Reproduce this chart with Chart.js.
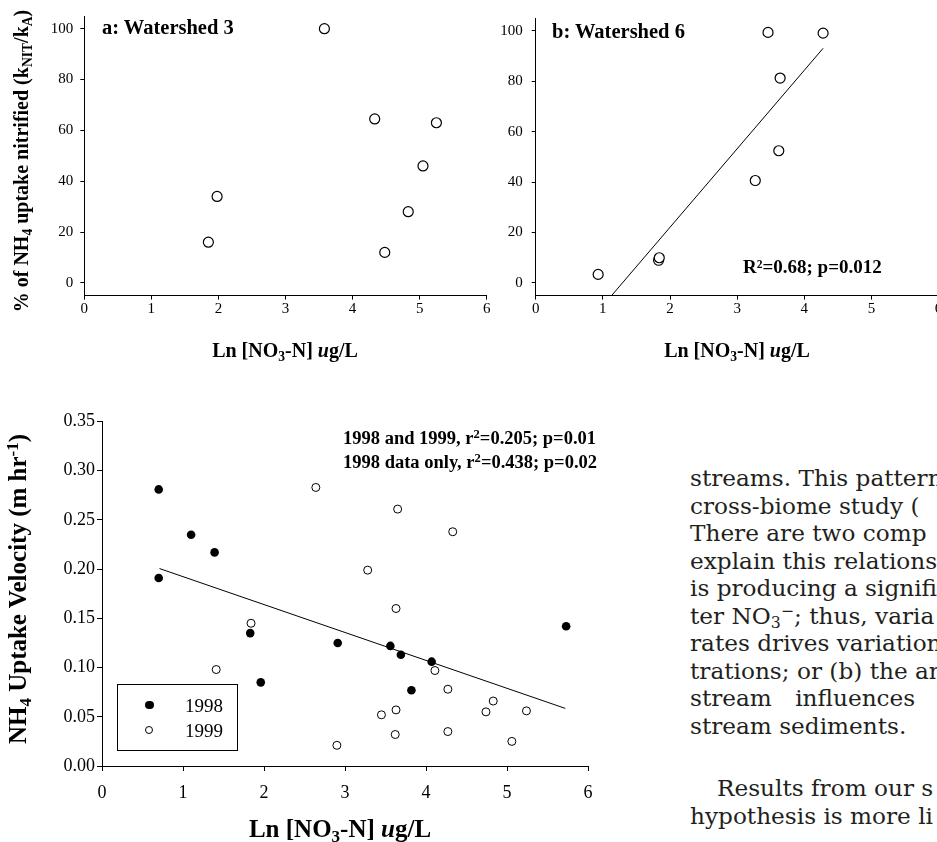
<!DOCTYPE html>
<html>
<head>
<meta charset="utf-8">
<script src="https://cdn.jsdelivr.net/npm/chart.js@4.4.1/dist/chart.umd.min.js"></script>
<style>
html,body{margin:0;padding:0;background:#fff;}
body{width:937px;height:842px;overflow:hidden;position:relative;font-family:"Liberation Serif","Times New Roman",serif;color:#000;}
canvas{position:absolute;}
.t{position:absolute;white-space:nowrap;font-weight:bold;line-height:1.2;transform:translate(0,-50%);}
.c{transform:translate(-50%,-50%);}
.r{transform:translate(-50%,-50%) rotate(-90deg);}
sub{font-size:0.68em;vertical-align:-0.28em;line-height:0;}
sup{font-size:0.68em;vertical-align:0.5em;line-height:0;}
.legend{position:absolute;left:117px;top:684px;width:121px;height:67px;border:1px solid #000;box-sizing:border-box;}
.dot{position:absolute;border-radius:50%;box-sizing:border-box;}
.lt{position:absolute;font-size:19px;line-height:1;transform:translate(0,-50%);}
.para{position:absolute;left:690px;font-family:"DejaVu Serif",serif;font-size:23.2px;color:#231f20;white-space:nowrap;line-height:1.2;transform:translate(0,-50%);}
</style>
</head>
<body>
<canvas id="ca" width="500" height="340" style="left:0;top:0;width:500px;height:340px"></canvas>
<canvas id="cb" width="480" height="340" style="left:480px;top:0;width:480px;height:340px"></canvas>
<canvas id="cc" width="620" height="442" style="left:0;top:400px;width:620px;height:442px"></canvas>

<div class="t r" style="left:21px;top:161px;font-size:20px;">% of NH<sub>4</sub> uptake nitrified (k<sub>NIT</sub>/k<sub>A</sub>)</div>
<div class="t c" style="left:285px;top:350px;font-size:20px;">Ln [NO<sub>3</sub>-N] <i>u</i>g/L</div>
<div class="t c" style="left:737px;top:350px;font-size:20px;">Ln [NO<sub>3</sub>-N] <i>u</i>g/L</div>
<div class="t" style="left:102px;top:27px;font-size:20.5px;">a: Watershed 3</div>
<div class="t" style="left:552px;top:31px;font-size:20.5px;">b: Watershed 6</div>
<div class="t" style="left:743px;top:267px;font-size:19px;">R²=0.68; p=0.012</div>

<div class="t r" style="left:18px;top:589px;font-size:25px;">NH<sub>4</sub> Uptake Velocity (m hr<sup>-1</sup>)</div>
<div class="t c" style="left:340px;top:829px;font-size:25px;">Ln [NO<sub>3</sub>-N] <i>u</i>g/L</div>
<div class="t" style="left:343px;top:438px;font-size:18.5px;">1998 and 1999, r<sup>2</sup>=0.205; p=0.01</div>
<div class="t" style="left:343px;top:461.5px;font-size:18.5px;">1998 data only, r<sup>2</sup>=0.438; p=0.02</div>

<div class="legend"></div>
<div class="dot" style="left:145px;top:700.7px;width:8.6px;height:8.6px;background:#000;"></div>
<div class="dot" style="left:145.3px;top:726px;width:8px;height:8px;border:1px solid #000;background:#fff;"></div>
<div class="lt" style="left:185px;top:705px;">1998</div>
<div class="lt" style="left:185px;top:730px;">1999</div>

<div class="para" style="top:478px;">streams. This pattern</div>
<div class="para" style="top:505.5px;">cross-biome study (</div>
<div class="para" style="top:533px;">There are two comp</div>
<div class="para" style="top:560.5px;">explain this relations</div>
<div class="para" style="top:588px;">is producing a signifi</div>
<div class="para" style="top:615.5px;">ter NO<sub>3</sub><sup>−</sup>; thus, varia</div>
<div class="para" style="top:643px;">rates drives variation</div>
<div class="para" style="top:670.5px;">trations; or (b) the an</div>
<div class="para" style="top:698px;word-spacing:16px;">stream influences</div>
<div class="para" style="top:725.5px;">stream sediments.</div>
<div class="para" style="top:788px;left:717px;">Results from our s</div>
<div class="para" style="top:816px;">hypothesis is more li</div>

<script>
// ---- data ----
const lnTicks = [0, 1, 2, 3, 4, 5, 6];
const pctTicks = [0, 20, 40, 60, 80, 100];
const velTicks = [0, 0.05, 0.10, 0.15, 0.20, 0.25, 0.30, 0.35];

const ws3LnNO3 = [1.85, 1.98, 3.58, 4.33, 4.48, 4.83, 5.05, 5.25];
const ws3PctNitrified = [16, 34, 100, 64.5, 12, 28, 46, 63];

const ws6LnNO3 = [0.93, 1.83, 1.84, 3.27, 3.46, 3.62, 3.64, 4.28];
const ws6PctNitrified = [3.4, 9, 10, 40.6, 99.3, 52.4, 81.2, 99];
const ws6FitLn = [1.13, 4.28];
const ws6FitPct = [-5, 93];

const ln1998 = [0.70, 0.70, 1.10, 1.39, 1.83, 1.96, 2.91, 3.56, 3.69, 3.82, 4.07, 5.73];
const vel1998 = [0.281, 0.191, 0.235, 0.217, 0.135, 0.085, 0.125, 0.122, 0.113, 0.077, 0.106, 0.142];
const ln1999 = [2.64, 3.65, 4.33, 3.28, 3.63, 1.84, 1.41, 4.11, 4.27, 4.83, 3.63, 4.74, 5.24, 3.45, 3.62, 4.27, 5.06, 2.90];
const vel1999 = [0.283, 0.261, 0.238, 0.199, 0.160, 0.145, 0.098, 0.097, 0.078, 0.066, 0.057, 0.055, 0.056, 0.052, 0.032, 0.035, 0.025, 0.021];
const velFitLn = [0.71, 5.72];
const velFitVal = [0.2006, 0.0585];

// ---- helpers ----
const SERIF = "'Liberation Serif','Times New Roman',serif";
const pts = (xs, ys) => xs.map((x, i) => ({ x: x, y: ys[i] }));

function mkScale(o) {
  return {
    type: 'linear', position: o.position, min: o.min, max: o.max,
    afterBuildTicks: s => { s.ticks = o.ticks.map(v => ({ value: v })); },
    afterFit: s => { if (o.position === 'left') s.width = o.size; else s.height = o.size; },
    ticks: { font: { size: o.fontSize, family: SERIF }, color: '#000', padding: o.pad,
             callback: o.fmt, maxRotation: 0, autoSkip: false },
    grid: { drawOnChartArea: false, drawTicks: true, tickLength: o.tl, color: '#000', lineWidth: 1 },
    border: { display: true, color: '#000', width: 1 }
  };
}
const baseOpts = (pad, sx, sy) => ({
  responsive: false, animation: false, devicePixelRatio: 1,
  layout: { padding: pad },
  plugins: { legend: { display: false }, tooltip: { enabled: false } },
  scales: { x: sx, y: sy }
});
const openPt = { pointRadius: 5, pointBackgroundColor: '#fff', pointBorderColor: '#000', pointBorderWidth: 1.2, pointHoverRadius: 5 };

// ---- chart a ----
new Chart(document.getElementById('ca'), {
  type: 'scatter',
  data: { datasets: [Object.assign({ data: pts(ws3LnNO3, ws3PctNitrified) }, openPt)] },
  options: baseOpts({ left: 0, top: 11, right: 13.3, bottom: 0 },
    mkScale({ position: 'bottom', min: 0, max: 6, ticks: lnTicks, size: 44.4, fontSize: 15, pad: 0, tl: 4, fmt: v => String(v) }),
    mkScale({ position: 'left', min: -5, max: 105, ticks: pctTicks, size: 84.3, fontSize: 15, pad: 7, tl: 4, fmt: v => String(v) }))
});

// ---- chart b ----
new Chart(document.getElementById('cb'), {
  type: 'scatter',
  data: { datasets: [
    Object.assign({ data: pts(ws6LnNO3, ws6PctNitrified) }, openPt),
    { data: pts(ws6FitLn, ws6FitPct), showLine: true, borderColor: '#000', borderWidth: 1, pointRadius: 0, fill: false }
  ] },
  options: baseOpts({ left: 0, top: 11, right: 21.4, bottom: 0 },
    mkScale({ position: 'bottom', min: 0, max: 6, ticks: lnTicks, size: 44.4, fontSize: 15, pad: 0, tl: 4, fmt: v => String(v) }),
    mkScale({ position: 'left', min: -5, max: 105, ticks: pctTicks, size: 55.7, fontSize: 15, pad: 9, tl: 4, fmt: v => String(v) }))
});

// ---- chart c ----
new Chart(document.getElementById('cc'), {
  type: 'scatter',
  data: { datasets: [
    { data: pts(velFitLn, velFitVal), showLine: true, borderColor: '#000', borderWidth: 1, pointRadius: 0, fill: false },
    { data: pts(ln1999, vel1999), pointRadius: 4, pointBackgroundColor: '#fff', pointBorderColor: '#000', pointBorderWidth: 1, pointHoverRadius: 4 },
    { data: pts(ln1998, vel1998), pointRadius: 4.3, pointBackgroundColor: '#000', pointBorderColor: '#000', pointBorderWidth: 0, pointHoverRadius: 4.3 }
  ] },
  options: baseOpts({ left: 0, top: 21.5, right: 32, bottom: 0 },
    mkScale({ position: 'bottom', min: 0, max: 6, ticks: lnTicks, size: 76, fontSize: 18, pad: 11, tl: 5, fmt: v => String(v) }),
    mkScale({ position: 'left', min: 0, max: 0.35, ticks: velTicks, size: 102, fontSize: 18, pad: 2, tl: 5, fmt: v => v.toFixed(2) }))
});
</script>
</body>
</html>
